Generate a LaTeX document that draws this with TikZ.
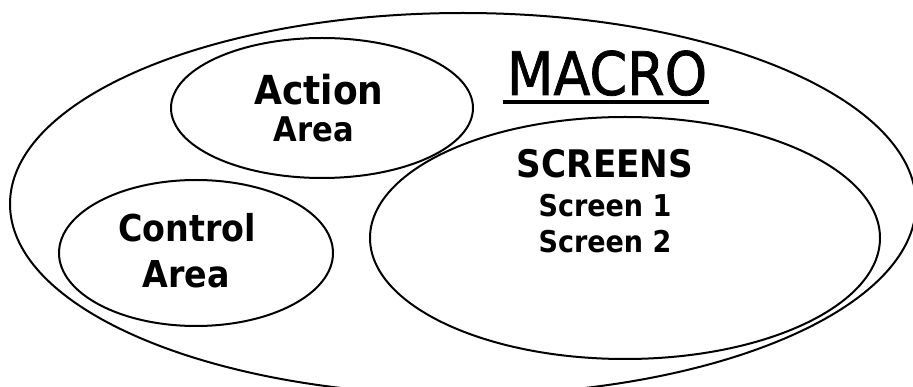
\documentclass[tikz,border=0pt]{standalone}
\usepackage{fontspec}
\usepackage{tikz}
\usetikzlibrary{shapes, positioning, calc}

\newfontfamily\diagfont[FakeStretch=0.9]{DejaVu Sans}
\newfontfamily\titlefont[FakeStretch=0.9, FakeBold=1.2]{DejaVu Sans}

\begin{document}
\begin{tikzpicture}[x=1pt, y=-1pt,
    region/.style={ellipse, draw, line width=2pt, inner sep=0pt},
    lbl/.style={anchor=base, inner sep=0pt}]
\useasboundingbox (0,0) rectangle (913,387);
\clip (0,0) rectangle (913,387);

% the enclosing area and the three regions
\node[region, minimum width=906pt, minimum height=382pt] (macroarea) at (463,204) {};
\node[region, minimum width=302pt, minimum height=140pt] (actionarea) at (322,108) {};
\node[region, minimum width=274pt, minimum height=146pt] (controlarea) at (196,253) {};
\node[region, minimum width=510pt, minimum height=242pt] (screensarea) at (625,238) {};

% title
\node[lbl, font=\titlefont\fontsize{60}{60}\selectfont] (macro) at (607,95) {MACRO};
\draw[line width=3.5pt] ([xshift=-4pt, yshift=-7pt]macro.base west) -- ([xshift=2pt, yshift=-7pt]macro.base east);

% labels
\node[lbl, font=\diagfont\bfseries\fontsize{40}{40}\selectfont] (action) at (319,105) {Action};
\node[lbl, font=\diagfont\bfseries\fontsize{34}{34}\selectfont] (actionb) at (314,142) {Area};
\node[lbl, font=\diagfont\bfseries\fontsize{37}{37}\selectfont] (control) at (187,242) {Control};
\node[lbl, font=\diagfont\bfseries\fontsize{37}{37}\selectfont] (controlb) at (186,288) {Area};
\node[lbl, font=\diagfont\bfseries\fontsize{38}{38}\selectfont] (screens) at (605,178) {SCREENS};
\node[lbl, font=\diagfont\bfseries\fontsize{30}{30}\selectfont] (screen1) at (605,217) {Screen 1};
\node[lbl, font=\diagfont\bfseries\fontsize{30}{30}\selectfont] (screen2) at (605,253) {Screen 2};
\end{tikzpicture}
\end{document}
